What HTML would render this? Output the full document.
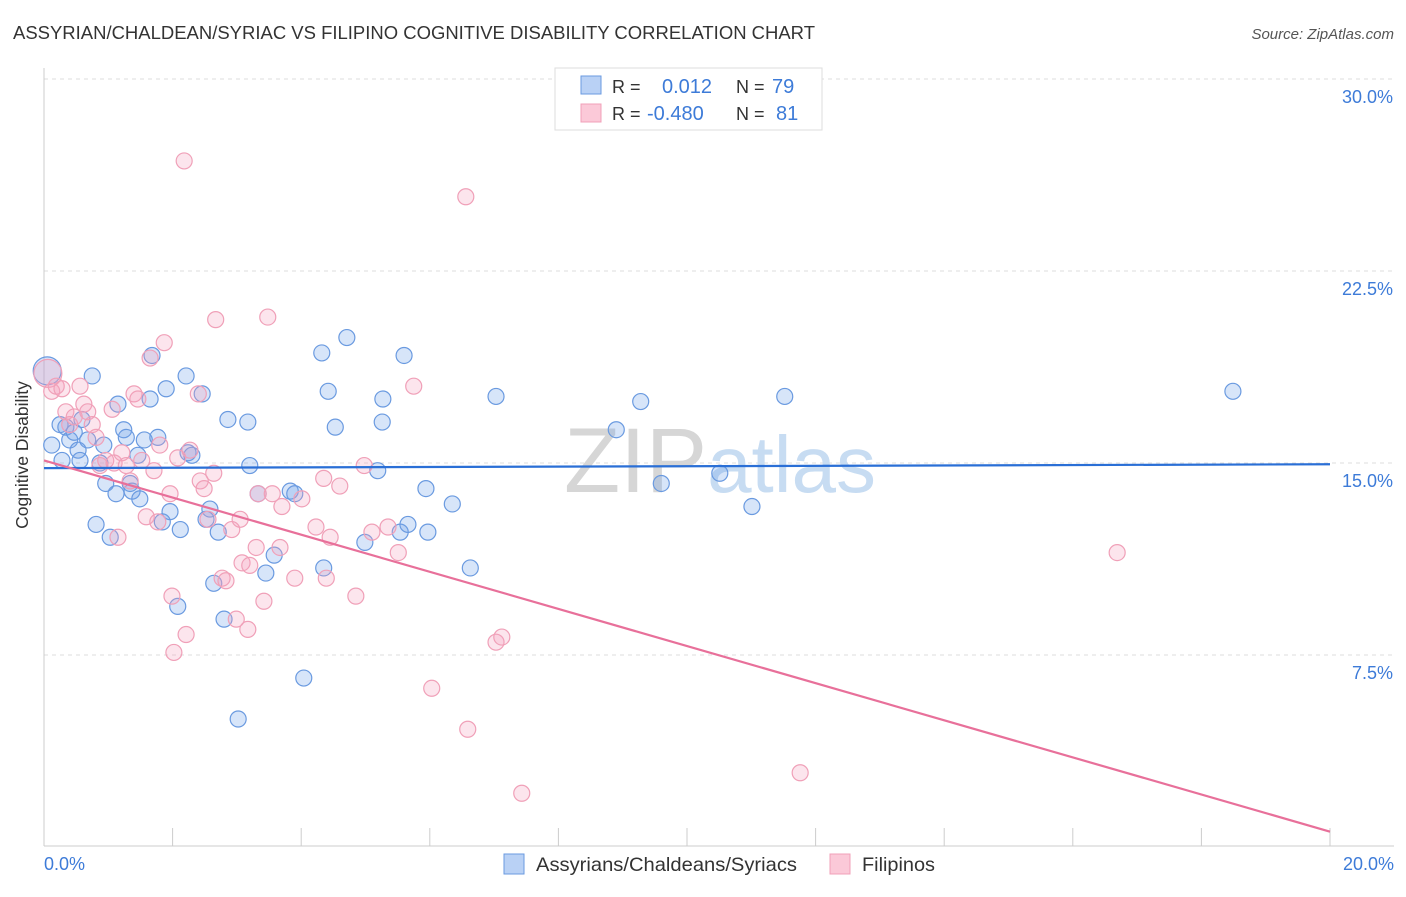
<!DOCTYPE html>
<html><head><meta charset="utf-8"><style>
body{margin:0;background:#fff;font-family:"Liberation Sans",sans-serif;}
svg text{font-family:"Liberation Sans",sans-serif;}
</style></head><body>
<svg width="1406" height="892" viewBox="0 0 1406 892">
<text x="13" y="39" font-size="18.3" fill="#333" textLength="802" lengthAdjust="spacingAndGlyphs">ASSYRIAN/CHALDEAN/SYRIAC VS FILIPINO COGNITIVE DISABILITY CORRELATION CHART</text>
<text x="1394" y="39" font-size="15" fill="#555" font-style="italic" text-anchor="end">Source: ZipAtlas.com</text>
<g id="grid"></g>
<text x="720" y="492" font-size="92" fill="#d6d6d6" text-anchor="middle" font-family="Liberation Serif">ZIP<tspan fill="#c7dcf2" font-family="Liberation Sans" font-size="80">atlas</tspan></text>
<line x1="44" y1="68" x2="44" y2="846" stroke="#ccc"/>
<line x1="44" y1="846" x2="1394" y2="846" stroke="#ccc"/>
<g id="xticks"></g>
<g id="points"></g>
<g id="trends"></g>
<text x="28" y="455" font-size="17.5" fill="#333" text-anchor="middle" transform="rotate(-90 28 455)">Cognitive Disability</text>
<text x="44" y="870" font-size="18" fill="#3d7bd8">0.0%</text>
<text x="1394" y="870" font-size="18" fill="#3d7bd8" text-anchor="end">20.0%</text>
<g>
<rect x="555" y="68" width="267" height="62" fill="#fff" stroke="#ddd"/>
<rect x="581" y="76" width="20" height="18" fill="#b9d1f5" stroke="#6a9ae0"/>
<rect x="581" y="104" width="20" height="18" fill="#fbc9d8" stroke="#f0a0b8"/>
<text x="612" y="93" font-size="18" fill="#333">R =</text>
<text x="662" y="93" font-size="20" fill="#3d7bd8">0.012</text>
<text x="736" y="93" font-size="18" fill="#333">N =</text>
<text x="772" y="93" font-size="20" fill="#3d7bd8">79</text>
<text x="612" y="120" font-size="18" fill="#333">R =</text>
<text x="647" y="120" font-size="20" fill="#3d7bd8">-0.480</text>
<text x="736" y="120" font-size="18" fill="#333">N =</text>
<text x="776" y="120" font-size="20" fill="#3d7bd8">81</text>
</g>
<g>
<rect x="504" y="854" width="20" height="20" fill="#b9d1f5" stroke="#6a9ae0"/>
<text x="536" y="871" font-size="19.5" fill="#333" textLength="261" lengthAdjust="spacingAndGlyphs">Assyrians/Chaldeans/Syriacs</text>
<rect x="830" y="854" width="20" height="20" fill="#fbc9d8" stroke="#f0a0b8"/>
<text x="862" y="871" font-size="19.5" fill="#333" textLength="73" lengthAdjust="spacingAndGlyphs">Filipinos</text>
</g>
</svg>
<script>
const yTicks=[7.5,15,22.5,30];
const yTickLabels=["7.5%","15.0%","22.5%","30.0%"];
const blueX=[0.05,0.12,0.25,0.28,0.34,0.40,0.47,0.53,0.56,0.59,0.68,0.75,0.81,0.87,0.93,0.96,1.03,1.12,1.15,1.24,1.28,1.34,1.37,1.46,1.49,1.56,1.65,1.68,1.77,1.84,1.90,1.96,2.08,2.12,2.21,2.24,2.30,2.46,2.52,2.58,2.64,2.71,2.80,2.86,3.02,3.17,3.20,3.33,3.45,3.58,3.83,3.90,4.04,4.32,4.35,4.42,4.53,4.71,4.99,5.19,5.26,5.27,5.54,5.60,5.66,5.94,5.97,6.35,6.63,7.03,8.90,9.28,9.60,10.51,11.01,11.52,18.49];
const blueY=[18.6,15.7,16.5,15.1,16.4,15.9,16.2,15.5,15.1,16.7,15.9,18.4,12.6,15.0,15.7,14.2,12.1,13.8,17.3,16.3,16.0,14.2,13.9,15.3,13.6,15.9,17.5,19.2,16.0,12.7,17.9,13.1,9.4,12.4,18.4,15.4,15.3,17.7,12.8,13.2,10.3,12.3,8.9,16.7,5.0,16.6,14.9,13.8,10.7,11.4,13.9,13.8,6.6,19.3,10.9,17.8,16.4,19.9,11.9,14.7,16.6,17.5,12.3,19.2,12.6,14.0,12.3,13.4,10.9,17.6,16.3,17.4,14.2,14.6,13.3,17.6,17.8];
const pinkX=[0.06,0.12,0.19,0.28,0.34,0.40,0.47,0.56,0.62,0.68,0.75,0.81,0.87,0.96,1.06,1.09,1.15,1.21,1.28,1.34,1.40,1.46,1.52,1.59,1.65,1.71,1.77,1.80,1.87,1.96,1.99,2.02,2.08,2.18,2.21,2.27,2.40,2.43,2.49,2.55,2.64,2.67,2.77,2.83,2.92,2.99,3.05,3.08,3.17,3.20,3.30,3.33,3.42,3.48,3.55,3.67,3.70,3.90,4.01,4.23,4.35,4.39,4.45,4.60,4.85,4.98,5.10,5.35,5.51,5.75,6.03,6.56,6.59,7.03,7.12,7.43,11.76,16.69];
const pinkY=[18.5,17.8,18.0,17.9,17.0,16.5,16.8,18.0,17.3,17.0,16.5,16.0,14.9,15.1,17.1,15.0,12.1,15.4,14.9,14.3,17.7,17.5,15.1,12.9,19.1,14.7,12.7,15.7,19.7,13.8,9.8,7.6,15.2,26.8,8.3,15.5,17.7,14.3,14.0,12.8,14.6,20.6,10.5,10.4,12.4,8.9,12.8,11.1,8.5,11.0,11.7,13.8,9.6,20.7,13.8,11.7,13.3,10.5,13.6,12.5,14.4,10.5,12.1,14.1,9.8,14.9,12.3,12.5,11.5,18.0,6.2,25.4,4.6,8.0,8.2,2.1,2.9,11.5];
const blueTrend=[14.8,14.95];
const pinkTrend=[15.1,0.6];
const xMax=20;
const NS="http://www.w3.org/2000/svg";
function sx(v){return 44+v*(1330-44)/20;}
function sy(v){return 847-v*25.6;}
const grid=document.getElementById('grid');
yTicks.forEach((t,i)=>{
 const l=document.createElementNS(NS,'line');
 l.setAttribute('x1',44);l.setAttribute('x2',1394);l.setAttribute('y1',sy(t));l.setAttribute('y2',sy(t));
 l.setAttribute('stroke','#ddd');l.setAttribute('stroke-dasharray','4 4');
 
 
 grid.appendChild(l);
 const tx=document.createElementNS(NS,'text');
 tx.setAttribute('x',1393);tx.setAttribute('y',sy(t)+24);tx.setAttribute('text-anchor','end');
 tx.setAttribute('font-size','18');tx.setAttribute('fill','#3d7bd8');tx.textContent=yTickLabels[i];
 
 
 grid.appendChild(tx);
});
const xt=document.getElementById('xticks');
for(let i=0;i<=10;i++){
 const l=document.createElementNS(NS,'line');
 const x=sx(i*2);
 l.setAttribute('x1',x);l.setAttribute('x2',x);l.setAttribute('y1',828);l.setAttribute('y2',846);l.setAttribute('stroke','#ccc');
 
 
 xt.appendChild(l);
}
const pts=document.getElementById('points');
function dot(x,y,r,fill,stroke,name){
 const c=document.createElementNS(NS,'circle');
 c.setAttribute('cx',sx(x));c.setAttribute('cy',sy(y));c.setAttribute('r',r);
 c.setAttribute('fill',fill);c.setAttribute('stroke',stroke);c.setAttribute('stroke-width','1.2');
 
 
 pts.appendChild(c);
}
blueX.forEach((x,i)=>dot(x,blueY[i],i===0?14:8,'rgba(110,160,235,0.28)','#6a9ae0','point-assyrian'));
pinkX.forEach((x,i)=>dot(x,pinkY[i],i===0?14:8,'rgba(245,160,190,0.28)','#f0a0b8','point-filipino'));
const tr=document.getElementById('trends');
function line(a,col,name){
 const l=document.createElementNS(NS,'line');
 l.setAttribute('x1',sx(0));l.setAttribute('x2',sx(xMax));l.setAttribute('y1',sy(a[0]));l.setAttribute('y2',sy(a[1]));
 l.setAttribute('stroke',col);l.setAttribute('stroke-width','2.2');
 
 
 tr.appendChild(l);
}
line(blueTrend,'#2a6fd6','trend-assyrian');
line(pinkTrend,'#e8709a','trend-filipino');
</script>
</body></html>
